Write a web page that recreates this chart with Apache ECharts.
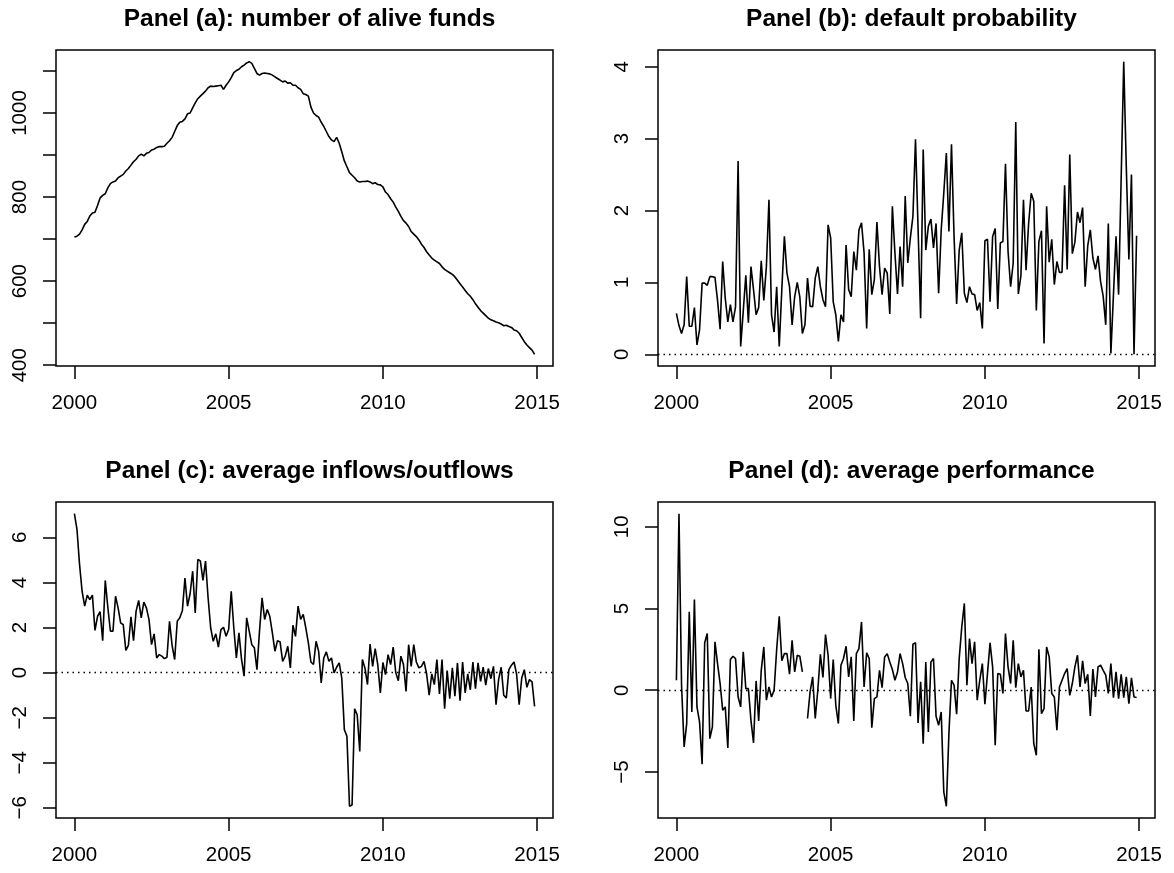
<!DOCTYPE html>
<html>
<head>
<meta charset="utf-8">
<title>Funds panels</title>
<script src="https://cdn.jsdelivr.net/npm/echarts@6/dist/echarts.min.js"></script>
<style>
  html, body { margin: 0; padding: 0; background: #fff; }
  #chart { width: 1174px; height: 873px; }
</style>
</head>
<body>
<div id="chart"></div>
<script>
// monthly observations, Jan 2000 .. Dec 2014
const startYear = 2000
const nMonths = 180

// Panel (a): number of alive funds
const aliveFunds = [
  705, 707, 712, 722, 735, 742, 755, 762, 764, 780,
  798, 804, 808, 822, 832, 836, 838, 846, 850, 854,
  862, 868, 876, 884, 890, 898, 902, 898, 904, 906,
  912, 914, 918, 920, 920, 921, 928, 934, 942, 956,
  970, 978, 980, 986, 998, 1000, 1012, 1024, 1034, 1040,
  1046, 1052, 1060, 1064, 1063, 1064, 1065, 1066, 1056, 1066,
  1074, 1084, 1096, 1101, 1104, 1110, 1114, 1119, 1122, 1118,
  1106, 1094, 1090, 1094, 1095, 1094, 1093, 1090, 1086, 1082,
  1078, 1074, 1076, 1071, 1072, 1066, 1066, 1060, 1056, 1046,
  1044, 1040, 1014, 1000, 994, 990, 978, 968, 956, 944,
  936, 932, 942, 928, 908, 886, 872, 858, 852, 846,
  838, 836, 837, 837, 838, 836, 832, 834, 830, 829,
  824, 812, 806, 796, 788, 776, 766, 754, 744, 738,
  730, 718, 712, 706, 698, 688, 680, 670, 662, 655,
  650, 646, 642, 634, 628, 624, 620, 616, 610, 602,
  594, 586, 578, 570, 564, 556, 546, 538, 530, 524,
  518, 512, 508, 506, 503, 501, 498, 494, 495, 492,
  490, 484, 482, 476, 466, 456, 448, 442, 436, 426,
]

// Panel (b): default probability
const defaultProb = [
  0.57, 0.40, 0.29, 0.41, 1.08, 0.39, 0.39, 0.65, 0.13, 0.34,
  0.99, 0.99, 0.96, 1.08, 1.08, 1.07, 0.75, 0.35, 1.29, 0.78,
  0.45, 0.69, 0.45, 0.66, 2.69, 0.11, 0.60, 1.10, 0.44, 1.22,
  0.90, 0.55, 0.65, 1.30, 0.75, 1.22, 2.15, 0.55, 0.31, 0.94,
  0.11, 0.90, 1.64, 1.13, 0.94, 0.41, 0.80, 1.00, 0.80, 0.29,
  0.41, 1.06, 0.67, 0.66, 1.06, 1.22, 0.94, 0.76, 0.66, 1.80,
  1.62, 0.73, 0.55, 0.18, 0.55, 0.45, 1.52, 0.90, 0.80, 1.43,
  1.17, 1.73, 1.83, 1.41, 0.36, 1.46, 0.83, 1.04, 1.84, 1.22,
  0.83, 1.20, 1.13, 0.56, 2.06, 1.41, 0.84, 1.50, 0.94, 2.20,
  1.27, 1.62, 1.92, 2.99, 1.75, 0.50, 2.85, 1.45, 1.78, 1.88,
  1.48, 1.82, 0.85, 1.73, 2.24, 2.80, 1.71, 2.92, 1.64, 0.70,
  1.45, 1.69, 0.85, 0.72, 0.94, 0.84, 0.83, 0.61, 0.72, 0.36,
  1.58, 1.60, 0.73, 1.64, 1.75, 0.63, 1.55, 1.57, 2.65, 1.43,
  0.94, 1.27, 3.23, 0.84, 1.09, 2.15, 1.17, 1.82, 2.24, 2.13,
  0.61, 1.57, 1.72, 0.15, 2.06, 1.28, 1.60, 0.97, 1.29, 1.14,
  1.14, 2.35, 1.18, 2.78, 1.40, 1.56, 1.98, 1.83, 2.04, 0.94,
  1.51, 1.73, 1.34, 1.18, 1.37, 1.01, 0.81, 0.41, 1.82, 0.01,
  0.83, 1.64, 0.83, 2.45, 4.07, 2.60, 1.32, 2.50, 0.00, 1.65,
]

// Panel (c): average inflows/outflows
const avgFlows = [
  7.05, 6.36, 4.80, 3.60, 2.95, 3.44, 3.24, 3.44, 1.87, 2.50,
  2.70, 1.42, 4.09, 2.90, 1.84, 1.84, 3.39, 2.87, 2.20, 2.13,
  0.99, 1.21, 2.47, 1.42, 2.73, 3.20, 2.43, 3.13, 2.87, 2.36,
  1.24, 1.72, 0.65, 0.80, 0.73, 0.62, 0.68, 2.28, 1.21, 0.58,
  2.28, 2.43, 2.76, 4.20, 2.95, 3.50, 4.50, 2.65, 5.02, 4.95,
  4.09, 4.95, 3.32, 1.99, 1.39, 1.72, 1.13, 1.91, 2.01, 1.61,
  1.91, 3.61, 1.99, 0.65, 1.76, 0.60, -0.16, 2.43, 1.84, 1.24,
  1.10, 0.13, 1.84, 3.32, 2.36, 2.80, 2.50, 1.76, 0.95, 1.42,
  1.36, 0.50, 0.73, 1.17, 0.21, 2.10, 1.61, 2.95, 2.36, 2.58,
  1.99, 1.32, 0.47, 0.36, 1.39, 0.95, -0.46, 0.65, 0.92, 0.50,
  0.65, -0.01, 0.24, 0.43, -0.24, -2.53, -2.82, -5.93, -5.87, -1.60,
  -1.87, -3.50, 0.58, 0.21, -0.53, 1.27, 0.28, 1.07, 0.36, -0.90,
  0.45, -0.09, 0.80, 0.36, 1.13, 0.00, -0.36, 0.73, 0.36, -0.83,
  1.24, 0.28, 1.24, 0.47, 0.21, 0.28, 0.50, -0.06, -1.00, -0.06,
  -0.53, 0.58, -0.95, 0.58, -1.60, 0.09, -1.16, 0.21, -1.05, 0.43,
  -1.24, 0.47, -0.90, -0.06, -0.76, 0.47, -0.71, 0.43, -0.39, 0.24,
  -0.56, 0.18, -0.27, 0.28, -1.42, -0.31, 0.24, -1.00, -1.13, 0.13,
  0.33, 0.47, -0.06, -1.42, -0.24, 0.13, -0.65, -0.31, -0.41, -1.50,
]

// Panel (d): average performance (one missing month in 2004)
const avgPerf = [
  0.61, 10.8, 0.30, -3.47, -2.04, 4.80, -1.33, 5.55, -1.02, -1.94,
  -4.53, 2.90, 3.47, -2.96, -2.24, 2.96, 1.63, 0.41, -1.22, -1.02,
  -3.53, 1.88, 2.08, 1.94, -0.41, -1.02, 2.35, 0.10, 0.10, -1.84,
  -3.22, 0.57, -1.88, 1.22, 2.65, -0.61, 0.20, -0.41, 0.00, 2.49,
  4.53, 1.80, 2.24, 2.24, 0.98, 3.06, 1.12, 2.14, 2.08, 1.12,
  null, -1.73, -0.10, 0.82, -1.73, 0.00, 2.20, 0.78, 3.41, 2.14,
  -0.51, 1.88, -0.92, -2.04, 1.53, 1.94, 2.69, 0.82, 2.04, -1.88,
  2.24, 2.55, 4.18, 0.20, 2.29, 1.94, -2.29, -0.51, -0.41, 1.22,
  0.16, 2.04, 2.24, 1.73, 1.27, 0.61, 1.12, 2.24, 1.63, 0.78,
  0.41, -1.59, 2.82, 2.90, -2.00, 0.51, -3.27, 1.73, -2.55, 1.73,
  1.94, -1.59, -2.14, -1.33, -6.22, -7.10, -2.65, 0.61, 0.31, -1.47,
  1.94, 3.88, 5.31, 0.31, 3.16, 1.63, 2.96, -0.61, 0.61, 1.63,
  -0.86, 1.02, 2.90, 1.43, -3.37, 1.02, 0.98, -0.20, 3.47, 1.43,
  0.41, 3.06, 0.16, 1.63, 0.82, 1.22, -1.27, -1.27, 0.20, -3.27,
  -3.98, 2.51, -1.43, -1.12, 2.65, 2.04, -0.20, -0.41, -2.45, 0.20,
  0.61, 1.02, 1.33, -0.31, 0.41, 1.43, 2.14, 0.20, 1.80, 0.41,
  0.98, -1.57, 1.29, -0.41, 1.43, 1.53, 1.22, 0.92, -0.20, 1.63,
  -0.45, 1.12, -0.51, 0.98, -0.45, 0.82, -0.82, 0.76, -0.41, -0.45,
]

const titles = [
  'Panel (a): number of alive funds',
  'Panel (b): default probability',
  'Panel (c): average inflows/outflows',
  'Panel (d): average performance',
]

// tick marks / labels
const xTicks = [2000, 2005, 2010, 2015]
const aTicks = [400, 500, 600, 700, 800, 900, 1000, 1100]
const aLabels = [400, 600, 800, 1000]
const bTicks = [0, 1, 2, 3, 4]
const cTicks = [-6, -4, -2, 0, 2, 4, 6]
const dTicks = [-5, 0, 5, 10]

const FONT = '"Liberation Sans", Arial, Helvetica, sans-serif'

const chart = echarts.init(document.getElementById('chart'), null, { renderer: 'canvas' })

const dates = Array.from({ length: nMonths }, (_, i) => startYear + i / 12)

// R-like axis range: data range widened by 4% each side
function rRange(vals) {
  const v = vals.filter((d) => d !== null)
  const lo = Math.min(...v)
  const hi = Math.max(...v)
  const pad = (hi - lo) * 0.04
  return [lo - pad, hi + pad]
}

const xRange = rRange(dates)

// plot boxes (px)
const boxes = [
  { left: 56, top: 50 },
  { left: 658, top: 50 },
  { left: 56, top: 502 },
  { left: 658, top: 502 },
]
const boxW = 497
const boxH = 316

const panels = [
  { data: aliveFunds, ticks: aTicks, labels: aLabels, zero: false },
  { data: defaultProb, ticks: bTicks, labels: bTicks, zero: true },
  { data: avgFlows, ticks: cTicks, labels: cTicks, zero: true },
  { data: avgPerf, ticks: dTicks, labels: dTicks, zero: true },
]

const fmt = (v) => (v < 0 ? '\u2212' + Math.abs(v) : String(v))

const grid = []
const xAxis = []
const yAxis = []
const series = []
const title = []

panels.forEach((p, i) => {
  const b = boxes[i]
  grid.push({
    left: b.left,
    top: b.top,
    width: boxW,
    height: boxH,
    show: true,
    borderColor: '#000',
    borderWidth: 1.5,
    backgroundColor: 'transparent',
  })
  title.push({
    text: titles[i],
    left: b.left + boxW / 2,
    top: b.top - 48,
    textAlign: 'center',
    textStyle: { fontFamily: FONT, fontWeight: 'bold', fontSize: 24.5, color: '#000' },
  })
  xAxis.push({
    type: 'value',
    gridIndex: i,
    min: xRange[0],
    max: xRange[1],
    axisLine: { show: false, onZero: false },
    splitLine: { show: false },
    axisTick: {
      show: true,
      length: 13,
      customValues: xTicks,
      lineStyle: { color: '#000', width: 1.5 },
    },
    axisLabel: {
      customValues: xTicks,
      margin: 27,
      fontFamily: FONT,
      fontSize: 20.5,
      color: '#000',
      formatter: (v) => String(v),
    },
  })
  const yr = rRange(p.data)
  yAxis.push({
    type: 'value',
    gridIndex: i,
    min: yr[0],
    max: yr[1],
    axisLine: { show: false, onZero: false },
    splitLine: { show: false },
    axisTick: {
      show: true,
      length: 13,
      customValues: p.ticks,
      lineStyle: { color: '#000', width: 1.5 },
    },
    axisLabel: {
      customValues: p.labels,
      rotate: 90,
      margin: 25.5,
      fontFamily: FONT,
      fontSize: 20.5,
      color: '#000',
      formatter: fmt,
    },
  })
  series.push({
    type: 'line',
    xAxisIndex: i,
    yAxisIndex: i,
    data: p.data.map((v, k) => [dates[k], v === null ? '-' : v]),
    showSymbol: false,
    symbol: 'none',
    connectNulls: false,
    silent: true,
    animation: false,
    lineStyle: { color: '#000', width: 1.6 },
    markLine: p.zero
      ? {
          silent: true,
          symbol: 'none',
          label: { show: false },
          animation: false,
          lineStyle: { color: '#000', type: [1.5, 4], width: 1.3 },
          data: [{ yAxis: 0 }],
        }
      : undefined,
  })
})

chart.setOption({
  backgroundColor: '#fff',
  animation: false,
  title,
  grid,
  xAxis,
  yAxis,
  series,
})
</script>
</body>
</html>
